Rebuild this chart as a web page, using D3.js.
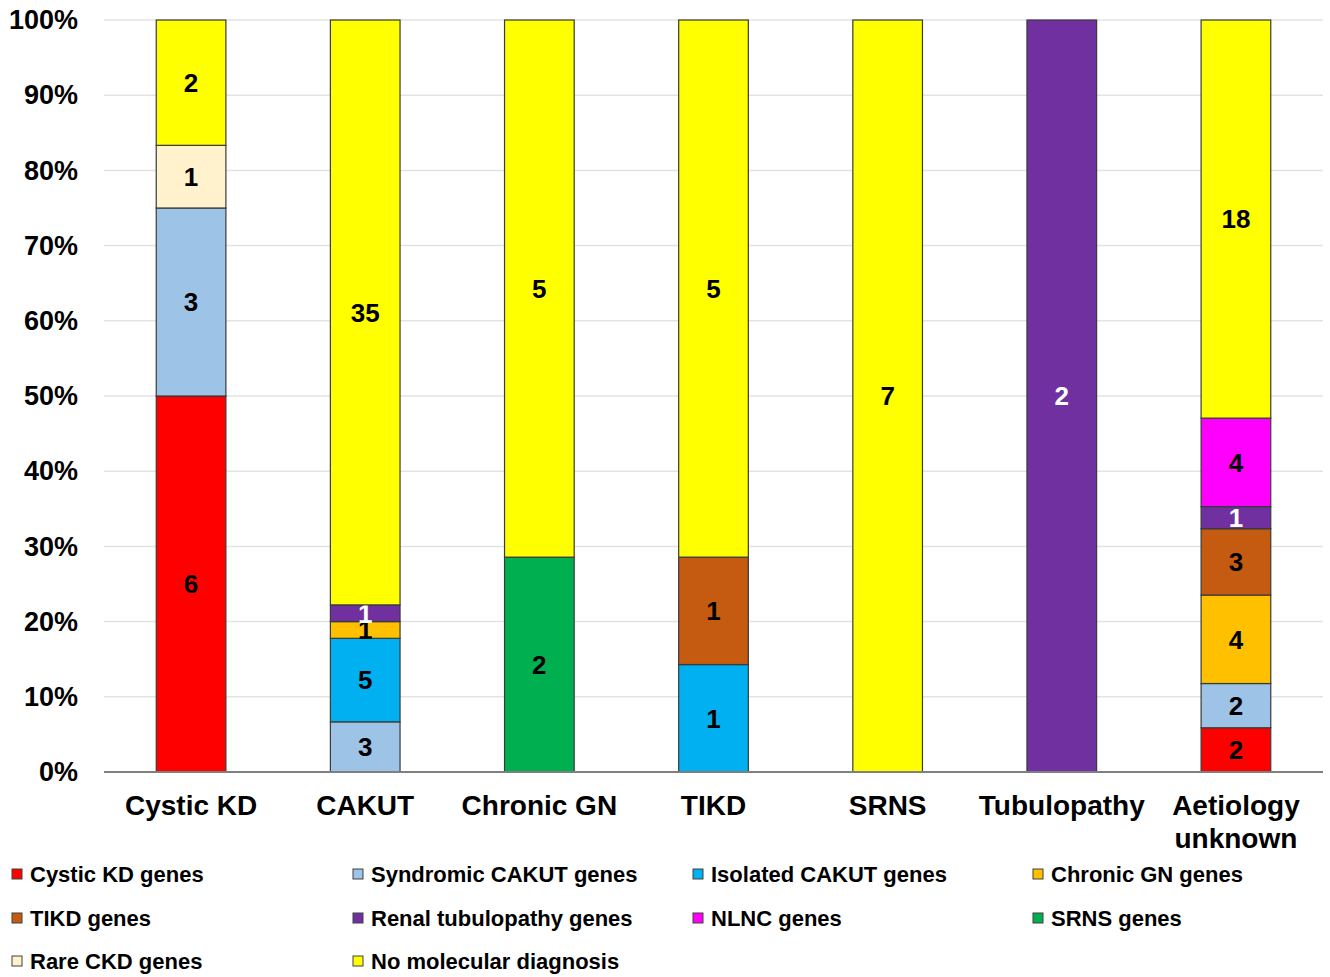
<!DOCTYPE html>
<html>
<head>
<meta charset="utf-8">
<script src="https://cdn.jsdelivr.net/npm/d3@7"></script>
<style>
  body { margin: 0; background: #fff; }
  text { font-family: "Liberation Sans", Arial, sans-serif; font-weight: bold; }
</style>
</head>
<body>
<div id="chart"></div>
<script>
// categories and series (counts per segment)
var categories = ["Cystic KD", "CAKUT", "Chronic GN", "TIKD", "SRNS", "Tubulopathy", "Aetiology unknown"];
var seriesNames = ["Cystic KD genes", "Syndromic CAKUT genes", "Isolated CAKUT genes", "Chronic GN genes",
    "TIKD genes", "Renal tubulopathy genes", "NLNC genes", "SRNS genes", "Rare CKD genes", "No molecular diagnosis"];
var seriesColors = ["#ff0000", "#9dc3e6", "#00b0f0", "#ffc000", "#c55a11", "#7030a0", "#ff00ff", "#00b050", "#fff2cc", "#ffff00"];

var cysticKD      = [6, 0, 0, 0, 0, 0, 2];
var syndromic     = [3, 3, 0, 0, 0, 0, 2];
var isolated      = [0, 5, 0, 1, 0, 0, 0];
var chronicGN     = [0, 1, 0, 0, 0, 0, 4];
var tikd          = [0, 0, 0, 1, 0, 0, 3];
var tubulopathy   = [0, 1, 0, 0, 0, 2, 1];
var nlnc          = [0, 0, 0, 0, 0, 0, 4];
var srns          = [0, 0, 2, 0, 0, 0, 0];
var rareCKD       = [1, 0, 0, 0, 0, 0, 0];
var noMolecular   = [2, 35, 5, 5, 7, 0, 18];
var seriesValues = [cysticKD, syndromic, isolated, chronicGN, tikd, tubulopathy, nlnc, srns, rareCKD, noMolecular];

var yTicks = [0, 0.1, 0.2, 0.3, 0.4, 0.5, 0.6, 0.7, 0.8, 0.9, 1];

var width = 1330, height = 977;
var plot = {left: 104, right: 1323, top: 20, bottom: 772};

// table for d3.stack
var table = categories.map(function (c, i) {
    var row = {category: c};
    seriesNames.forEach(function (s, j) { row[s] = seriesValues[j][i]; });
    return row;
});

var stacked = d3.stack().keys(seriesNames).offset(d3.stackOffsetExpand)(table);

var x = d3.scaleBand().domain(categories).range([plot.left, plot.right]).paddingInner(0.6).paddingOuter(0.3);
var y = d3.scaleLinear().domain([0, 1]).range([plot.bottom, plot.top]);
var color = d3.scaleOrdinal().domain(seriesNames).range(seriesColors);

var svg = d3.select("#chart").append("svg")
    .attr("width", width)
    .attr("height", height);

// gridlines
svg.append("g")
    .selectAll("line")
    .data(yTicks.slice(1))
    .enter().append("line")
    .attr("x1", plot.left)
    .attr("x2", plot.right)
    .attr("y1", function (d) { return y(d); })
    .attr("y2", function (d) { return y(d); })
    .attr("stroke", "#e3e3e3")
    .attr("stroke-width", 1.5);

// y axis labels
var yAxis = svg.append("g")
    .attr("transform", "translate(" + (plot.left - 26) + ",0)")
    .call(d3.axisLeft(y).tickValues(yTicks).tickFormat(d3.format(".0%")).tickSize(0).tickPadding(0));
yAxis.select(".domain").remove();
yAxis.selectAll("text")
    .attr("font-size", 27)
    .attr("font-family", "Liberation Sans, Arial, sans-serif")
    .attr("font-weight", "bold")
    .attr("fill", "#000");

// bars
var layers = svg.append("g")
    .selectAll("g")
    .data(stacked)
    .enter().append("g")
    .attr("fill", function (d) { return color(d.key); });

layers.selectAll("rect")
    .data(function (d) { return d.filter(function (p) { return p[1] - p[0] > 0; }); })
    .enter().append("rect")
    .attr("x", function (d) { return x(d.data.category); })
    .attr("y", function (d) { return y(d[1]); })
    .attr("width", x.bandwidth())
    .attr("height", function (d) { return y(d[0]) - y(d[1]); })
    .attr("stroke", "#3a3a3a")
    .attr("stroke-width", 1.2);

// segment labels
layers.each(function (layer) {
    d3.select(this).selectAll("text")
        .data(layer.filter(function (p) { return p[1] - p[0] > 0; }))
        .enter().append("text")
        .attr("x", function (d) { return x(d.data.category) + x.bandwidth() / 2; })
        .attr("y", function (d) { return y((d[0] + d[1]) / 2); })
        .attr("dy", "0.36em")
        .attr("text-anchor", "middle")
        .attr("font-size", 26)
        .attr("fill", layer.key == "Renal tubulopathy genes" ? "#fff" : "#000")
        .text(function (d) { return d.data[layer.key]; });
});

// x axis line
svg.append("line")
    .attr("x1", plot.left)
    .attr("x2", plot.right)
    .attr("y1", plot.bottom)
    .attr("y2", plot.bottom)
    .attr("stroke", "#7f7f7f")
    .attr("stroke-width", 2);

// category labels
svg.append("g")
    .selectAll("text")
    .data(categories)
    .enter().append("text")
    .attr("x", function (d) { return x(d) + x.bandwidth() / 2; })
    .attr("y", 815)
    .attr("text-anchor", "middle")
    .attr("font-size", 28)
    .each(function (d) {
        var words = d == "Aetiology unknown" ? ["Aetiology", "unknown"] : [d];
        var t = d3.select(this);
        words.forEach(function (w, i) {
            t.append("tspan")
                .attr("x", x(d) + x.bandwidth() / 2)
                .attr("dy", i == 0 ? 0 : 33)
                .text(w);
        });
    });

// legend
var legendCols = [12, 353, 693, 1033];
var legendRows = [874, 918, 961];
var legend = svg.append("g")
    .selectAll("g")
    .data(seriesNames)
    .enter().append("g")
    .attr("transform", function (d, i) {
        return "translate(" + legendCols[i % 4] + "," + legendRows[Math.floor(i / 4)] + ")";
    });

legend.append("rect")
    .attr("x", 0)
    .attr("y", -5)
    .attr("width", 10)
    .attr("height", 10)
    .attr("fill", function (d) { return color(d); })
    .attr("stroke", "#404040")
    .attr("stroke-width", 1);

legend.append("text")
    .attr("x", 18)
    .attr("y", 0)
    .attr("dy", "0.36em")
    .attr("font-size", 22)
    .attr("fill", "#000")
    .text(function (d) { return d; });
</script>
</body>
</html>
